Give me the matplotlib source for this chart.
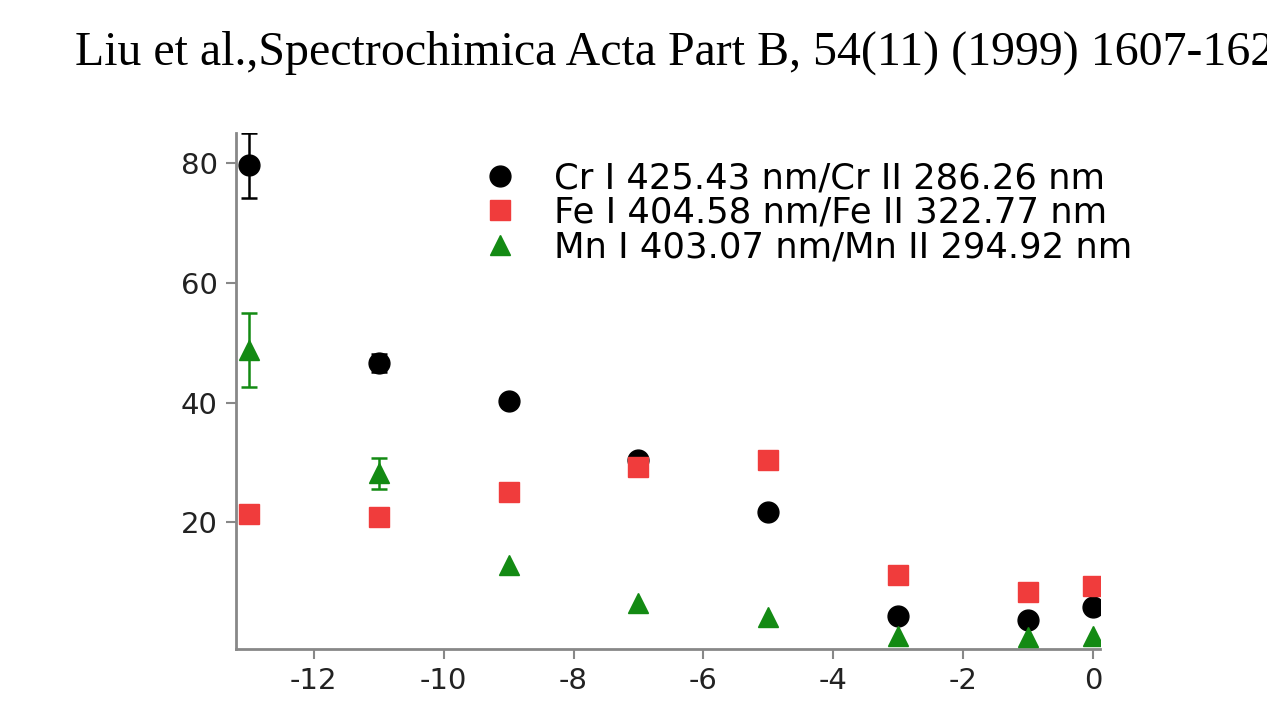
import numpy as np
import matplotlib.pyplot as plt

# data
x = [-13, -11, -9, -7, -5, -3, -1, 0]
cr = [79.6, 46.6, 40.3, 30.4, 21.7, 4.3, 3.7, 5.8]
cr_err = [5.4, 1.5, 0, 0, 0, 0, 0, 0]
fe = [21.4, 20.9, 25.1, 29.2, 30.4, 11.2, 8.4, 9.4]
mn = [48.8, 28.2, 12.9, 6.5, 4.2, 1.0, 0.8, 1.0]
mn_err = [6.2, 2.6, 0, 0, 0, 0, 0, 0]

labels = ['Cr I 425.43 nm/Cr II 286.26 nm',
          'Fe I 404.58 nm/Fe II 322.77 nm',
          'Mn I 403.07 nm/Mn II 294.92 nm']
title = 'Liu et al.,Spectrochimica Acta Part B, 54(11) (1999) 1607-1620'

plt.rcParams['font.family'] = ['DejaVu Sans']
plt.rcParams['axes.unicode_minus'] = False

fig = plt.figure(figsize=(12.67, 7.19), dpi=100)
ax = fig.add_axes([0.186, 0.097, 0.682, 0.718])

red = '#f03c3c'
green = '#138a13'


def err_bars(vals, errs, color):
    # only points that carry an error bar
    xs = [xi for xi, e in zip(x, errs) if e > 0]
    ys = [v for v, e in zip(vals, errs) if e > 0]
    es = [e for e in errs if e > 0]
    ax.errorbar(xs, ys, yerr=es, fmt='none', ecolor=color, capsize=6,
                elinewidth=1.8, capthick=1.8, zorder=2)


err_bars(cr, cr_err, 'black')
err_bars(mn, mn_err, green)
h1, = ax.plot(x, cr, 'o', color='black', ms=15, ls='none', zorder=3)
h2, = ax.plot(x, fe, 's', color=red, ms=14, ls='none', zorder=4)
h3, = ax.plot(x, mn, '^', color=green, ms=15, ls='none', zorder=3)

ax.set_xlim(-13.2, 0.1)
ax.set_ylim(-1.2, 85)
ax.set_xticks([-12, -10, -8, -6, -4, -2, 0])
ax.set_yticks([20, 40, 60, 80])

for s in ['top', 'right']:
    ax.spines[s].set_visible(False)
for s in ['left', 'bottom']:
    ax.spines[s].set_color('#888888')
    ax.spines[s].set_linewidth(2)
ax.tick_params(colors='#888888', labelcolor='#222222', labelsize=21,
               length=7, width=1.5, direction='out', pad=6)

fig.legend([h1, h2, h3], labels, loc='upper left',
           bbox_to_anchor=(0.378, 0.776), frameon=False, fontsize=25.5,
           handletextpad=0.92, labelspacing=0.02, handlelength=1.2,
           borderaxespad=0, borderpad=0)

fig.text(0.059, 0.91, title, fontsize=34.5, family=['Liberation Serif'],
         ha='left', va='baseline')

plt.savefig('out.png', dpi=100)
